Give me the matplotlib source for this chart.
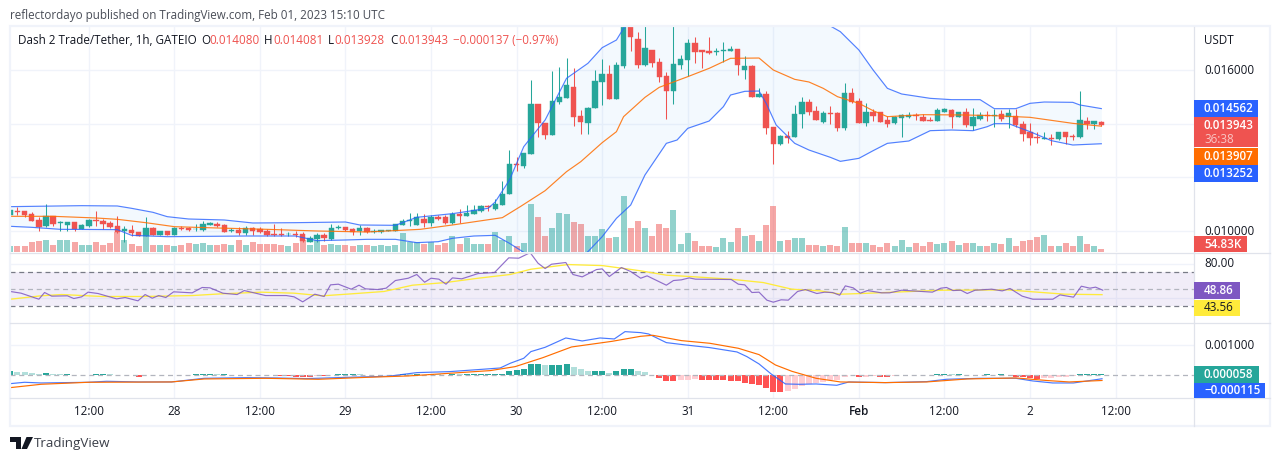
import matplotlib
matplotlib.use('Agg')
import matplotlib.pyplot as plt
from matplotlib.patches import Rectangle, Polygon
import numpy as np

# candles, in millionths of USDT
opens = [10596,10733,10745,10633,10410,10186,10559,10298,10224,10323,
         10074,10186,10410,10385,10298,10174,10012,10037,9963,9814,
         10112,9863,9987,9863,10124,10112,10062,10050,10236,10261,
         10224,9987,10037,9938,10112,10062,9987,9888,9888,9876,
         9888,9888,9602,9689,9851,9702,10112,10137,10087,10000,
         10112,9963,9963,10012,10000,10236,10385,10236,10447,10310,
         10522,10509,10310,10621,10559,10646,10745,10919,10820,10981,
         11391,12497,12422,12882,14733,14025,13590,14820,14969,15367,
         14286,14037,14596,15565,15851,14932,16149,17700,17156,16199,
         16746,16298,15777,15218,16186,16373,17006,16746,16708,16658,
         16721,16721,16783,16000,16149,14994,15106,13876,13242,13540,
         13503,14360,14808,14472,14062,14398,14410,13838,15143,14845,
         14025,14435,14435,14137,14025,14211,14248,14323,14248,14137,
         14099,14435,14509,14248,14435,13913,14174,14311,14273,14360,
         14248,14286,13988,13690,13503,13441,13466,13429,13690,13540,
         13503,14099,13988,14080]
highs = [10783,10882,10745,10708,10534,11006,10559,10372,10335,10323,
         10261,10435,10758,10460,10385,10559,10186,10211,9963,10509,
         10137,9987,9987,10161,10186,10137,10273,10360,10335,10335,
         10261,10112,10161,10186,10161,10137,10087,10261,10112,9963,
         10012,9963,9814,9913,9938,10261,10224,10137,10112,10211,
         10137,10062,10025,10037,10261,10435,10658,10658,10633,10596,
         10596,10596,10695,10807,10969,10969,10969,10956,11180,11851,
         13019,12745,12894,15627,14733,14025,15963,16124,16447,16075,
         14510,14609,16000,16410,16186,16298,17800,17800,17416,17800,
         16746,16447,15926,17800,16559,17155,17218,16746,17230,16820,
         17044,16895,16783,16522,16186,15329,15218,13876,13578,13727,
         14696,14994,14919,14659,14472,14659,14435,15516,15329,14957,
         14770,14547,14435,14286,14286,14360,14435,14398,14360,14248,
         14572,14584,14547,14435,14584,14584,14435,14460,14547,14509,
         14547,14547,14099,14025,13690,13690,13615,13690,13690,13615,
         15218,14248,14099,14081]
lows = [10596,10596,10534,10372,10012,10137,10186,10012,10012,10012,
        10062,10161,10198,10074,10112,9938,9602,9814,9814,9814,
        9851,9851,9851,9851,10037,10012,10012,10012,10211,10137,
        9963,9975,9838,9838,9838,9938,9814,9814,9814,9814,
        9789,9590,9590,9602,9615,9665,10062,10012,9863,9863,
        9938,9938,9938,10012,10000,10211,10186,10211,10161,10186,
        10410,10261,10273,10310,10559,10633,10720,10758,10783,10981,
        11391,12236,12360,12882,13515,13441,13590,14733,14969,13925,
        13615,13615,14596,14708,14932,14932,16075,16708,16075,16149,
        16112,15553,14186,14733,16037,15777,16261,16075,16596,16559,
        16298,16708,15814,15665,14994,14994,13615,12497,13205,13280,
        13503,13838,14323,14137,14025,13988,13727,13764,14770,14025,
        13913,14099,14062,13876,13988,13503,14211,14137,14099,14099,
        14099,14435,13838,14248,13876,13764,14137,14099,13876,14099,
        13838,13876,13354,13205,13280,13416,13205,13391,13242,13391,
        13466,13801,13801,13928]
closes = [10783,10708,10596,10385,10161,10559,10261,10323,10335,10062,
          10224,10410,10360,10261,10149,9963,10074,9938,9826,10112,
          9863,9987,9863,10112,10087,10050,10087,10261,10298,10198,
          9975,10037,9938,10112,10012,9975,9851,9863,9863,9888,
          9838,9640,9739,9851,9751,10112,10149,10037,9963,10112,
          9963,10012,10025,10037,10261,10372,10410,10509,10310,10534,
          10447,10298,10646,10571,10658,10783,10919,10894,11006,11379,
          12497,12447,12894,14733,14025,13590,14845,14994,15441,14261,
          14075,14584,15590,15851,14932,16186,17700,17242,16199,16820,
          16261,15739,15218,16224,16410,17006,16671,16683,16634,16708,
          16746,16783,16186,16149,14994,15106,13838,13242,13540,13478,
          14360,14808,14435,14137,14398,14348,13838,15143,14808,14025,
          14435,14286,14062,13988,14248,14323,14323,14273,14112,14112,
          14509,14547,14248,14435,13950,14248,14323,14273,14323,14174,
          14398,13938,13615,13466,13453,13466,13441,13690,13503,13515,
          14137,13988,14099,13943]

# volume in thousands
volume = [104,104,104,170,186,203,121,203,203,170,
          121,121,170,121,153,334,203,137,104,269,
          121,121,121,104,121,153,137,153,121,121,
          137,121,203,121,170,137,137,137,121,104,
          153,203,121,203,121,137,121,121,104,121,
          121,104,121,104,121,318,170,170,137,170,
          121,153,269,137,236,137,137,137,334,203,
          269,104,153,795,581,269,400,647,630,499,
          466,269,269,384,236,252,926,400,515,400,
          269,466,400,696,137,318,186,104,104,88,
          236,170,400,269,285,186,449,762,186,203,
          236,236,121,121,104,121,104,416,153,153,
          153,121,88,153,104,203,88,153,104,170,
          137,153,186,121,153,153,104,104,153,137,
          236,104,186,203,252,285,104,104,153,104,
          269,137,104,55]

# bollinger bands, read at these bars
upper_idx = [0,10,15,17,20,22,25,30,34,40,47,49,54,57,62,67,68,70,72,75,78,81,83,85,86,
             89,93,97,105,112,115,116.4,119,121,123,125,129,132,136,138,141,143,145,149,150,153]
upper = [10907,10944,10932,10845,10696,10534,10447,10410,10298,10310,10335,10224,10211,10510,10646,
         10845,11081,11900,13143,14137,15690,16249,16833,17118,17553,18300,17650,18400,18600,18200,
         17640,17429,16746,16000,15317,15106,14944,14895,14895,14559,14559,14758,14807,14795,14696,14562]
basis_idx = [0,6,12,15,19,23,29,36,43,50,57.5,62,69,71.5,75,78,80,83,85,86,89,91,95,98,101,105,
             107,110,112,114,116,119,121,123,128,134,138,143,149,153]
basis = [10547,10547,10485,10435,10310,10161,10112,10062,10000,9963,10062,10224,10497,10906,11503,
         12211,12584,13292,13702,14261,14981,15354,15752,16062,16435,16447,16000,15652,15553,15317,
         15006,14758,14484,14261,14335,14323,14298,14236,14012,13907]
lower_idx = [0,3,7,15,17,22,33,40,43,47,50,54,57,60,62,65,68,70,72,76,79,81,83,85,87,89,92,93.5,95,
             98,100,101,103,105,106,107.4,110,112,115,116.4,119,121,123,126,129,132,135,137,138,140,
             143,146,149,153]
lower = [10174,10137,10062,10050,9838,9788,9813,9813,9640,9665,9689,9689,9565,9602,9727,9813,9838,
         9540,9205,8700,8800,9230,9788,10472,10969,12087,13267,13391,13826,14099,14634,15068,15205,
         15217,14758,13950,13267,13018,12745,12596,12708,12994,13267,13354,13739,13764,13739,13888,
         14000,14000,13702,13366,13205,13252]

# rsi and its average
rsi_idx = [0,1.5,4,4.8,5.8,8,8.9,10,10.9,12.3,14.9,16.1,17.9,18.9,19.9,20.8,21.8,22.9,25.5,26.9,28,
           29.8,31.8,32.8,35.8,38.7,39.8,41,42.7,44,44.9,46,47.8,48.9,49.8,51.5,52.7,54,55.8,57,58.1,
           59,60.1,61.1,62,63.3,65.6,67.9,69.9,71.3,72.9,74,75,75.9,77.9,78.9,80.2,82.2,83,84,85.7,
           87,88.4,89.3,92,93,94.1,95.2,96.1,101.1,102.1,103,104,105,106.1,107,108.1,109.1,110.4,
           111.5,113.1,114.2,115.3,116.3,117.1,118.2,119.2,120.2,122.2,123.3,125,127.3,129.3,130.5,
           131.3,132.2,133.3,134.2,135.3,137.6,139.1,140.2,141.9,143.4,146.2,147.2,149.1,150.2,
           151.4,152.2,153.2]
rsi = [47.3,45.3,38.2,46.1,41.8,42.2,39.0,41,46.5,44.9,38.6,40.2,36.3,43.7,39.4,42.5,40.2,46.9,45.7,52,
       51.6,45.3,43.7,48.4,42.5,42.5,41,35.1,44.1,41.4,55.1,55.9,50,54.7,50.4,49.6,51.2,60.2,62.9,67.3,
       58.2,62.9,61.8,55.9,63.3,62.2,68.4,69.6,86.9,86.5,93,80.6,74.3,79.4,81.4,67.3,64.5,73.1,73.9,
       64.9,75.5,70.8,62.9,65.7,54.7,60.2,61,63.3,61.8,61.4,55.9,55.1,46.1,46.5,37.1,34.7,37.5,37.1,
       47.3,49.6,44.9,46.5,46.1,42.9,53.9,51.6,45.3,48.4,45.7,45.7,48.8,47.6,46.5,51.2,52,48.4,48.8,
       44.9,48.8,50,48,50.8,41.8,38.2,38.2,43.3,40.6,53.5,51.2,52.4,48.86]
rsi_ma_idx = [0,4.3,7.2,12.9,18.6,25.5,29.5,35.2,39.8,43.8,47.8,52.4,56.4,61,65.6,70.1,73,78.2,83,
              86.8,88.4,92,95.3,101,105.6,109.6,113.6,116.4,119.3,123.9,130.8,139.9,143.4,147.9,153.1]
rsi_ma = [38.2,42.2,43.7,41.4,41.4,42.5,44.5,46.5,45.3,42.2,44.5,47.3,54.7,57.8,62.9,67.3,73.5,79,77.8,
          73.5,71.6,66.5,64.9,61.8,57.8,50,48,44.1,44.9,46.5,48.8,49.2,46.9,44.1,43.56]

# macd, in millionths of USDT
macd_idx = [0,2,4.3,10.9,13.5,18,22.6,27.2,33,37.5,41.5,47.3,53,57,61.6,66.2,68.7,70.1,72,73,75,77.9,
            80.2,82.7,84.7,86.2,88.4,89.5,92,94.7,98.1,101.9,103.3,105,106.7,108.7,110.7,113,115.9,
            117.6,122.7,128.5,131.3,135.9,141,143.4,146.2,149.1,153.1]
macd = [-278,-233,-256,-233,-200,-222,-222,-100,-78,-89,-111,-67,-33,89,122,200,244,400,567,789,933,
        1244,1144,1244,1211,1455,1422,1378,1089,1011,922,778,622,378,44,-289,-300,-289,-333,-222,
        -244,-211,-133,-100,-100,-189,-256,-256,-115]
signal_idx = [0,4.3,10.9,22.6,27.2,35.8,43.2,50.1,55.8,61.6,67.3,70.8,74.7,78.7,84.4,88.4,90.1,94.1,
              98.1,102.1,105,107.3,109.6,113,116.4,122.7,128.5,134.2,141,145.6,148.5,153.1]
signal = [-411,-300,-233,-222,-122,-100,-133,-67,-22,67,156,289,589,944,1133,1300,1333,1156,1067,900,
          689,344,133,-100,-222,-244,-222,-122,-89,-178,-222,-173]
hist = [133,111,105,89,56,78,44,33,33,22,11,11,56,56,33,11,11,11,-44,11,
        11,11,11,11,11,11,44,44,44,33,33,11,11,11,11,11,11,11,-11,-22,
        -44,-44,-44,-33,-33,11,44,44,44,33,22,11,11,11,22,44,33,33,22,44,
        33,22,44,33,44,44,44,44,44,56,144,189,222,378,378,356,356,356,378,278,
        200,133,156,156,89,133,222,222,156,111,0,-78,-178,-178,-167,-144,-133,-144,-144,-144,
        -144,-189,-189,-244,-300,-333,-422,-544,-544,-533,-444,-356,-300,-256,-222,-167,-156,-67,11,-56,
        -44,-40,-56,-56,-33,11,11,11,11,11,56,56,50,56,11,11,11,56,11,56,
        11,-44,-67,-89,-111,-100,-78,-67,-60,-11,33,33,56,56]

time_ticks = [11,23,35,47,59,71,83,95,107,119,131,143,155]
time_labels = ['12:00','28','12:00','29','12:00','30','12:00','31','12:00','Feb','12:00','2','12:00']

UP = '#26a69a'
DOWN = '#ef5350'
BLUE = '#2962ff'
ORANGE = '#ff6d00'
GRID = '#f0f3fa'
BORDER = '#e0e3eb'
TEXT = '#131722'
W, H = 1280, 461

plt.rcParams['font.family'] = ['Open Sans', 'DejaVu Sans']

fig = plt.figure(figsize=(12.8, 4.61), dpi=100, facecolor='white')


def pane(top, bottom):
    a = fig.add_axes([10 / W, 1 - bottom / H, 1184 / W, (bottom - top) / H])
    a.set_xlim(-0.05, 166)
    for s in a.spines.values():
        s.set_visible(False)
    a.tick_params(length=0, labelbottom=False, labelleft=False)
    a.set_xticks(time_ticks)
    a.grid(True, color=GRID, lw=1)
    a.set_axisbelow(True)
    return a


def px_text(x, y, s, **kw):
    kw.setdefault('va', 'center')
    kw.setdefault('color', TEXT)
    kw.setdefault('fontsize', 8.4)
    fig.text(x / W, 1 - y / H, s, **kw)


def px_box(x0, y0, x1, y1, color):
    fig.add_artist(Rectangle((x0 / W, 1 - y1 / H), (x1 - x0) / W, (y1 - y0) / H,
                             transform=fig.transFigure, facecolor=color, edgecolor='none', zorder=5))


def scaled(values):
    return np.array(values) / 1e6


x = np.arange(len(opens))
o, h, l, c = scaled(opens), scaled(highs), scaled(lows), scaled(closes)
rising = c >= o
colors = [UP if r else DOWN for r in rising]

# price pane, volume sits on its own axis underneath
price_min, price_max = 0.009217, 0.017603
vol_max = 3705
ax_vol = pane(27, 252)
ax_vol.set_ylim(0, vol_max)
grid_prices = [0.010, 0.012, 0.014, 0.016]
ax_vol.set_yticks([(p - price_min) / (price_max - price_min) * vol_max for p in grid_prices])
ax_vol.bar(x, volume, width=0.84, color=colors, alpha=0.5, linewidth=0)

ax = fig.add_axes(ax_vol.get_position(), sharex=ax_vol)
ax.patch.set_visible(False)
for s in ax.spines.values():
    s.set_visible(False)
ax.tick_params(length=0, labelbottom=False, labelleft=False)
ax.set_ylim(price_min, price_max)
ax.set_yticks([])

ax.vlines(x, l, h, colors=colors, lw=0.75, zorder=2)
ax.bar(x, np.abs(c - o), bottom=np.minimum(o, c), width=0.76, color=colors,
       edgecolor=colors, linewidth=0.3, zorder=3)

grid_x = np.linspace(0, 153, 613)
up_line = np.interp(grid_x, upper_idx, scaled(upper))
low_line = np.interp(grid_x, lower_idx, scaled(lower))
ax.fill_between(grid_x, low_line, up_line, color='#2196f3', alpha=0.05, linewidth=0, zorder=1)
ax.plot(upper_idx, scaled(upper), color=BLUE, lw=0.85, alpha=0.8, zorder=4)
ax.plot(lower_idx, scaled(lower), color=BLUE, lw=0.85, alpha=0.8, zorder=4)
ax.plot(basis_idx, scaled(basis), color=ORANGE, lw=0.85, alpha=0.85, zorder=4)

# rsi pane
ax_rsi = pane(253, 323)
ax_rsi.set_ylim(10.2, 92.6)
ax_rsi.set_yticks([40, 80])
ax_rsi.axhspan(30, 70, color='#7e57c2', alpha=0.1, linewidth=0)
for level, col in [(70, '#787b86'), (30, '#787b86'), (50, '#b2b5be')]:
    ax_rsi.axhline(level, color=col, lw=0.9, ls=(0, (4, 3)))
ax_rsi.plot(rsi_ma_idx, rsi_ma, color='#ffeb3b', lw=0.95)
ax_rsi.plot(rsi_idx, rsi, color='#7e57c2', lw=0.85, alpha=0.85)

# macd pane
ax_macd = pane(323, 398)
ax_macd.set_ylim(-0.000757, 0.001743)
ax_macd.set_yticks([0.001])
ax_macd.axhline(0, color='#b2b5be', lw=0.9, ls=(0, (4, 3)))
hist_colors = []
for i, v in enumerate(hist):
    prev = hist[i - 1] if i else v
    if v >= 0:
        hist_colors.append(UP if v >= prev else '#b2dfdb')
    else:
        hist_colors.append('#ffcdd2' if v > prev else '#ff5252')
ax_macd.bar(x, scaled(hist), width=0.84, color=hist_colors, linewidth=0)
ax_macd.plot(macd_idx, scaled(macd), color=BLUE, lw=0.85, alpha=0.85)
ax_macd.plot(signal_idx, scaled(signal), color=ORANGE, lw=0.85)

# frame and separators
fig.add_artist(Rectangle((9.5 / W, 1 - 426 / H), 1260.5 / W, 399.5 / H, transform=fig.transFigure,
                         facecolor='none', edgecolor=GRID, lw=1.6, zorder=4))
for yy in (252.5, 323, 398):
    fig.add_artist(plt.Line2D([10 / W, 1270 / W], [1 - yy / H] * 2, color=BORDER, lw=0.9, zorder=4))
fig.add_artist(plt.Line2D([1194 / W] * 2, [1 - 426 / H, 1 - 27 / H], color=BORDER, lw=0.9, zorder=4))

# header and legend
px_text(10, 15, 'reflectordayo published on TradingView.com, Feb 01, 2023 15:10 UTC', color='#4a4e58', fontsize=8.4)
px_text(18, 41, 'Dash 2 Trade/Tether, 1h, GATEIO', fontsize=8.4)
for xx, letter, val_x, val in [(201, 'O', 209, '0.014080'), (264, 'H', 273, '0.014081'),
                               (328, 'L', 334, '0.013928'), (390, 'C', 398, '0.013943')]:
    px_text(xx, 41, letter, fontsize=8.4)
    px_text(val_x, 41, val, color=DOWN, fontsize=8.4)
px_text(453, 41, '\u22120.000137 (\u22120.97%)', color=DOWN, fontsize=8.3)

# right scale labels
px_text(1204, 40, 'USDT', fontsize=8.4)
px_text(1204, 70, '0.016000', fontsize=8.4)
px_text(1204, 231, '0.010000', fontsize=8.4)
px_text(1204, 263.5, '80.00', fontsize=8.4, zorder=6)
px_text(1204, 345, '0.001000', fontsize=8.4)

for y0, y1, x1, col, fg, s, tx in [
        (100, 117, 1258, BLUE, 'white', '0.014562', 1204),
        (147.5, 164.7, 1258, ORANGE, 'white', '0.013907', 1204),
        (164.7, 181.7, 1258, BLUE, 'white', '0.013252', 1204),
        (236, 252, 1247, DOWN, 'white', '54.83K', 1204),
        (282, 299, 1240, '#7e57c2', 'white', '48.86', 1204),
        (299.5, 316, 1240, '#ffeb3b', TEXT, '43.56', 1204),
        (366, 383, 1259, UP, 'white', '0.000058', 1204),
        (383, 398, 1265, BLUE, 'white', '\u22120.000115', 1204)]:
    px_box(1194, y0, x1, y1, col)
    px_text(tx, (y0 + y1) / 2, s, color=fg, fontsize=8.4, zorder=6,
            fontweight='semibold' if fg == 'white' else 'normal')

px_box(1194, 117, 1258, 147.5, DOWN)
px_text(1204, 125.5, '0.013943', color='white', fontsize=8.4, zorder=6, fontweight='semibold')
px_text(1204, 139.5, '36:38', color='#f9c6c4', fontsize=8.4, zorder=6)

# time axis
for t, s in zip(time_ticks, time_labels):
    tx = 10 + (t + 0.05) * 1184 / 166.05
    px_text(tx, 411, s, ha='center', fontsize=8.4, fontweight='semibold' if s == 'Feb' else 'normal')

# footer logo
logo = [[(10, 437), (21, 437), (21, 449), (16, 449), (16, 442), (10, 442)],
        [(26.5, 437), (33, 437), (27, 449), (21.5, 449)]]
for pts in logo:
    fig.add_artist(Polygon([(a / W, 1 - b / H) for a, b in pts], transform=fig.transFigure,
                           facecolor='#131722', edgecolor='none'))
px_text(33.5, 443, 'TradingView', color='#3a3e48', fontsize=9.6)

fig.savefig('out.png', dpi=100)
